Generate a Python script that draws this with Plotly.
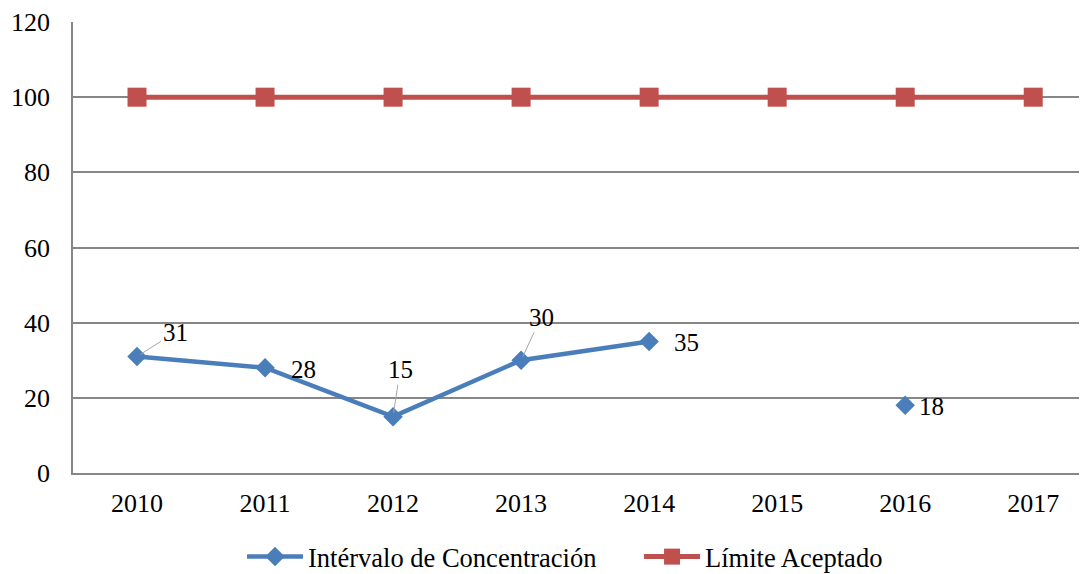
import plotly.graph_objects as go

years = ["2010", "2011", "2012", "2013", "2014", "2015", "2016", "2017"]
intervalo = [31, 28, 15, 30, 35, None, 18, None]
limite = [100, 100, 100, 100, 100, 100, 100, 100]
y_ticks = [0, 20, 40, 60, 80, 100, 120]

blue = "#4A7EBB"
red = "#C0504D"
font_family = "Liberation Serif"

fig = go.Figure()
fig.add_trace(go.Scatter(
    x=years, y=intervalo, name="Intérvalo de Concentración",
    mode="lines+markers", connectgaps=False,
    line=dict(color=blue, width=4.5),
    marker=dict(symbol="diamond", size=15, color=blue),
))
fig.add_trace(go.Scatter(
    x=years, y=limite, name="Límite Aceptado",
    mode="lines+markers",
    line=dict(color=red, width=5),
    marker=dict(symbol="square", size=19, color=red),
))

# data labels: (ax, ay, leader line)
label_offsets = {
    "2010": (38, -24, True),
    "2011": (38, 2, False),
    "2012": (7, -47, True),
    "2013": (20, -43, True),
    "2014": (37, 1, False),
    "2016": (26, 1, False),
}
for i, (yr, val) in enumerate(zip(years, intervalo)):
    if val is None:
        continue
    ax, ay, arrow = label_offsets[yr]
    if arrow:
        fig.add_annotation(
            x=i, y=val, xref="x", yref="y", text=str(val), showarrow=True,
            ax=ax, ay=ay, arrowhead=0, arrowwidth=1, arrowcolor="#A6A6A6",
            standoff=4,
            font=dict(family=font_family, size=25, color="black"),
        )
    else:
        fig.add_annotation(
            x=i, y=val, xref="x", yref="y", text=str(val), showarrow=False,
            xshift=ax, yshift=-ay,
            font=dict(family=font_family, size=25, color="black"),
        )

fig.update_layout(
    width=1087, height=574,
    margin=dict(l=65, r=8, t=14, b=109, autoexpand=False),
    paper_bgcolor="white", plot_bgcolor="white",
    font=dict(family=font_family, size=26, color="black"),
    showlegend=True,
    legend=dict(
        orientation="h", x=0.1667, xanchor="left", y=-0.186, yanchor="middle",
        font=dict(family=font_family, size=26.5, color="black"),
        itemwidth=56, tracegroupgap=0, entrywidth=326, entrywidthmode="pixels",
    ),
    xaxis=dict(
        type="category", range=[-0.5, 7.42], automargin=False,
        showgrid=False, showline=True, linecolor="#868686", linewidth=1.5,
        ticks="", tickfont=dict(family=font_family, size=26), ticklabelstandoff=6,
    ),
    yaxis=dict(
        range=[0, 120], tickvals=y_ticks, automargin=False,
        showgrid=True, gridcolor="#868686", gridwidth=1.5,
        showline=True, linecolor="#868686", linewidth=1.5,
        zeroline=False, ticks="", tickfont=dict(family=font_family, size=26), ticklabelstandoff=16,
    ),
)

fig.write_html("out.html")
